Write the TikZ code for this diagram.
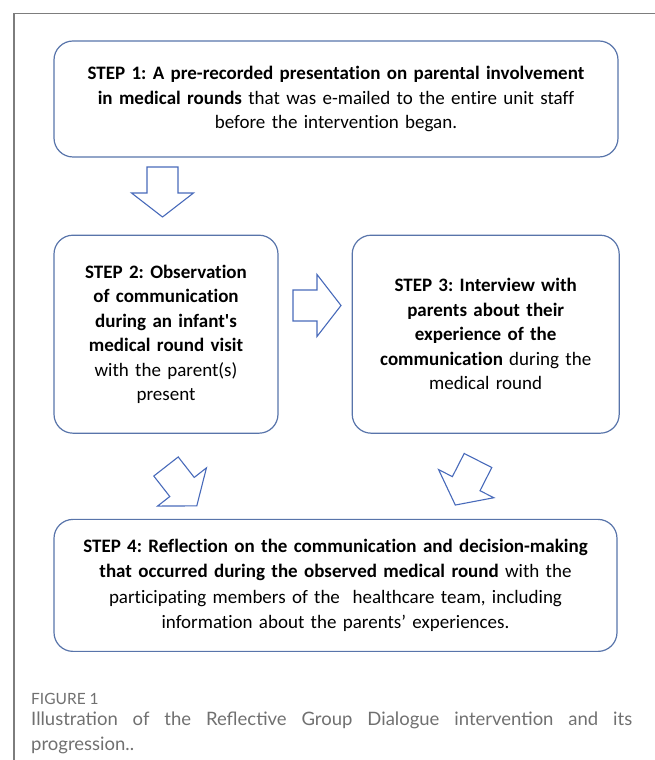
\documentclass[tikz,border=0pt]{standalone}
\usepackage{fontspec}
\setmainfont{Carlito}[Ligatures=NoCommon]
\newfontfamily\capfont{Lato}
\usetikzlibrary{positioning}
\frenchspacing

\definecolor{boxblue}{RGB}{88,116,170}
\definecolor{arrowblue}{RGB}{72,106,186}
\definecolor{framegray}{RGB}{125,125,125}
\definecolor{capgray}{RGB}{112,112,112}

% hollow block arrow: tail centre, direction, shaft length
\newcommand{\blockarrow}[3]{%
  \draw[arrowline, shift={#1}, rotate=#2]
    (0,-15.5) -- (#3,-15.5) -- (#3,-31) -- (#3+24,0) -- (#3,31) -- (#3,15.5) -- (0,15.5) -- cycle;}

\begin{document}
\begin{tikzpicture}[x=1pt, y=1pt,
  stepbox/.style={rectangle, rounded corners=19pt, draw=boxblue, line width=1.2pt,
    align=center, inner sep=4pt, font=\fontsize{19}{24.5}\selectfont},
  arrowline/.style={draw=arrowblue, line width=1.1pt, line join=miter}]
  \useasboundingbox (0,0) rectangle (655,760);

  % frame of the figure panel
  \draw[framegray, line width=1.2pt] (14,0) -- (14,746.5) -- (655,746.5);

  \node (s1) [stepbox, minimum width=564pt, minimum height=116pt, text width=548pt] at (336,661)
    {\textbf{STEP 1: A pre-recorded presentation on parental involvement}\\
     \textbf{in medical rounds} that was e-mailed to the entire unit staff\\
     before the intervention began.\\[6pt]};

  \node (s2) [stepbox, minimum width=224pt, minimum height=198pt, text width=212pt,
    below=77pt of s1.south west, anchor=north west]
    {\textbf{STEP 2: Observation}\\
     \textbf{of communication}\\
     \textbf{during an infant\textquotesingle s}\\
     \textbf{medical round visit}\\
     with the parent(s)\\
     present};

  \node (s3) [stepbox, minimum width=267pt, minimum height=198pt, text width=255pt,
    right=73pt of s2.north east, anchor=north west]
    {\textbf{STEP 3: Interview with}\\
     \textbf{parents about their}\\
     \textbf{experience of the}\\
     \textbf{communication} during the\\
     medical round\\[6pt]};

  \node (s4) [stepbox, minimum width=563pt, minimum height=132pt, text width=548pt,
    below=85pt of s2.south west, anchor=north west]
    {\textbf{STEP 4: Reflection on the communication and decision-making}\\[1pt]
     \textbf{that occurred during the observed medical round} with the\\[1pt]
     participating members of the\ \ healthcare team, including\\[1pt]
     information about the parents' experiences.};

  % arrows between the steps
  \coordinate (a12) at (162.5,593);
  \coordinate (a23) at (293,454.5);
  \coordinate (a24) at (166,293.5);
  \coordinate (a34) at (478,299.5);
  \blockarrow{(a12)}{-90}{26}
  \blockarrow{(a23)}{0}{24}
  \blockarrow{(a24)}{-52}{26}
  \blockarrow{(a34)}{-117}{26}

  % caption
  \node (figno) [anchor=west, inner sep=0, text=capgray,
    font=\capfont\fontsize{15.5}{18}\selectfont] at (31,61) {FIGURE 1};
  \node (caption) [anchor=north west, inner sep=0, text width=601pt, align=justify,
    text=capgray, font=\capfont\fontsize{18.5}{25}\selectfont] at (31,48)
    {Illustration of the Reflective Group Dialogue intervention and its\linebreak progression..};
\end{tikzpicture}
\end{document}
